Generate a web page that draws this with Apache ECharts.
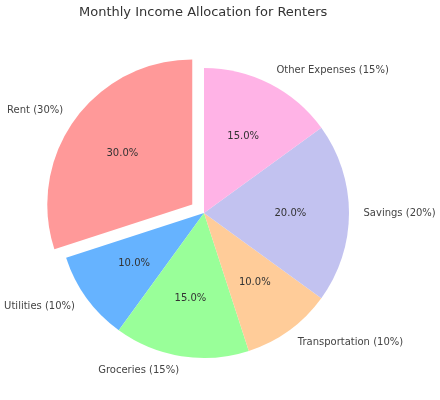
<!DOCTYPE html>
<html>
<head>
<meta charset="utf-8">
<script src="https://cdn.jsdelivr.net/npm/echarts@6/dist/echarts.min.js"></script>
<style>
  html, body { margin: 0; padding: 0; background: #fff; }
  #chart { width: 440px; height: 400px; }
</style>
</head>
<body>
<div id="chart"></div>
<script>
// data
var categories = ['Rent', 'Utilities', 'Groceries', 'Transportation', 'Savings', 'Other Expenses'];
var shares = [30, 10, 15, 10, 20, 15];
var colors = ['#ff9999', '#66b3ff', '#99ff99', '#ffcc99', '#c2c2f0', '#ffb3e6'];
var exploded = ['Rent'];

var R = 145;            // pie radius in px
var CENTER = [204, 213];
var OFFSET = 14.5;      // explode = 0.1 * R

var total = shares.reduce(function (a, b) { return a + b; }, 0);

function buildData(fill) {
  return categories.map(function (name, i) {
    return {
      name: name,
      value: shares[i],
      selected: exploded.indexOf(name) >= 0,
      itemStyle: { color: fill || colors[i] }
    };
  });
}

var chart = echarts.init(document.getElementById('chart'), null, { renderer: 'canvas' });
chart.setOption({
  animation: false,
  title: {
    text: 'Monthly Income Allocation for Renters',
    left: 74,
    top: 1,
    textStyle: { fontFamily: 'DejaVu Sans', fontSize: 13, fontWeight: 'normal', color: '#333' }
  },
  series: [
    {
      // wedges with outer name labels
      type: 'pie',
      center: CENTER,
      radius: [0, R],
      startAngle: 90,
      clockwise: false,
      selectedMode: 'multiple',
      selectedOffset: OFFSET,
      avoidLabelOverlap: false,
      emphasis: { disabled: true },
      label: {
        show: true,
        position: 'outside',
        distanceToLabelLine: 0,
        fontFamily: 'DejaVu Sans',
        fontSize: 10,
        color: '#444',
        formatter: function (p) { return p.name + ' (' + p.value + '%)'; }
      },
      labelLine: { show: false, length: 14.5, length2: 0 },
      data: buildData()
    },
    {
      // invisible ring, only to put the percent labels near 0.6 R
      type: 'pie',
      center: CENTER,
      radius: [0, R * 1.15],
      startAngle: 90,
      clockwise: false,
      silent: true,
      selectedMode: 'multiple',
      selectedOffset: OFFSET,
      avoidLabelOverlap: false,
      emphasis: { disabled: true },
      label: {
        show: true,
        position: 'inner',
        fontFamily: 'DejaVu Sans',
        fontSize: 10,
        color: '#333',
        formatter: function (p) { return (p.value / total * 100).toFixed(1) + '%'; }
      },
      labelLine: { show: false },
      data: buildData('rgba(0,0,0,0)')
    }
  ]
});
</script>
</body>
</html>
